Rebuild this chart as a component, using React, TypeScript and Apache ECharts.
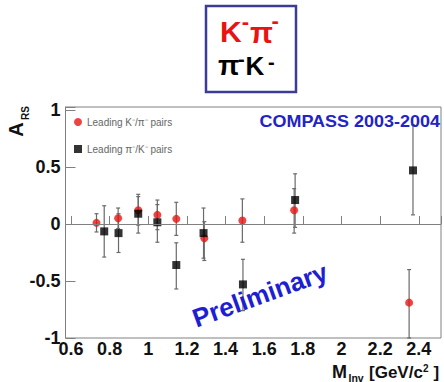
import React, { useEffect, useRef } from "react";
import * as echarts from "echarts";

const redX = [0.732, 0.844, 0.948, 1.047, 1.145, 1.29, 1.487, 1.755, 2.35];
const redY = [0.01, 0.05, 0.12, 0.08, 0.045, -0.125, 0.03, 0.12, -0.69];
const redLo = [-0.07, -0.04, -0.01, -0.05, -0.1, -0.32, -0.16, -0.08, -1.0];
const redHi = [0.09, 0.14, 0.24, 0.21, 0.19, 0.02, 0.22, 0.31, -0.4];

const blackX = [0.772, 0.846, 0.948, 1.047, 1.145, 1.286, 1.49, 1.76, 2.37];
const blackY = [-0.065, -0.08, 0.09, 0.015, -0.36, -0.08, -0.53, 0.21, 0.47];
const blackLo = [-0.29, -0.25, -0.08, -0.16, -0.57, -0.3, -0.76, -0.03, 0.08];
const blackHi = [0.16, 0.09, 0.26, 0.17, -0.165, 0.14, -0.31, 0.44, 0.87];

const xTickLabels = [0.6, 0.8, 1, 1.2, 1.4, 1.6, 1.8, 2, 2.2, 2.4];
const yTickLabels = [-1, -0.5, 0, 0.5, 1];

const redName = "Leading K\u207B/\u03C0\u207B pairs";
const blackName = "Leading \u03C0\u207B/K\u207B pairs";

const FONT = "'Liberation Sans', Arial, Helvetica, sans-serif";

function tickFmt(list: number[]) {
  return (v: number) => {
    const t = list.find((t) => Math.abs(t - v) < 1e-6);
    return t === undefined ? "" : String(t);
  };
}

function errRender(params: any, api: any) {
  const x = api.value(0);
  const lo = api.coord([x, api.value(1)]);
  const hi = api.coord([x, api.value(2)]);
  const c = 2;
  const style = { stroke: "#6a6a6a", lineWidth: 1.2 };
  return {
    type: "group",
    children: [
      { type: "line", shape: { x1: lo[0], y1: lo[1], x2: hi[0], y2: hi[1] }, style },
      { type: "line", shape: { x1: lo[0] - c, y1: lo[1], x2: lo[0] + c, y2: lo[1] }, style },
      { type: "line", shape: { x1: hi[0] - c, y1: hi[1], x2: hi[0] + c, y2: hi[1] }, style },
    ],
  };
}

function txt(
  text: string,
  x: number,
  y: number,
  size: number,
  fill: string,
  align = "left",
  rotation = 0,
  scaleX = 1
) {
  return {
    type: "text",
    x,
    y,
    rotation,
    scaleX,
    z: 100,
    style: {
      text,
      x: 0,
      y: 0,
      fill,
      fontSize: size,
      fontWeight: "bold",
      fontFamily: FONT,
      align,
      verticalAlign: "middle",
      textAlign: align,
      textVerticalAlign: "middle",
    },
  };
}

export default function App() {
  const ref = useRef<HTMLDivElement>(null);
  useEffect(() => {
    if (!ref.current) return;
    const chart = echarts.init(ref.current, null, { renderer: "svg" });
    const red = "#e81414";
    const option: any = {
      animation: false,
      backgroundColor: "#fff",
      textStyle: { fontFamily: FONT },
      grid: {
        left: 65.5,
        right: 1.5,
        top: 107,
        bottom: 44,
        show: true,
        borderColor: "#808080",
        borderWidth: 1,
        backgroundColor: "transparent",
      },
      legend: {
        orient: "vertical",
        left: 74,
        top: 117,
        padding: 0,
        itemGap: 17,
        itemWidth: 8,
        itemHeight: 8,
        textStyle: { fontSize: 10, color: "#666", fontFamily: FONT },
        data: [
          { name: redName, icon: "circle" },
          { name: blackName, icon: "rect" },
        ],
      },
      xAxis: {
        type: "value",
        min: 0.5716,
        max: 2.515,
        splitNumber: 10,
        axisLine: { show: true, lineStyle: { color: "#808080" } },
        axisTick: { show: true, inside: true, length: 8, lineStyle: { color: "#808080" } },
        splitLine: { show: false },
        axisLabel: {
          fontSize: 18,
          fontWeight: "bold",
          color: "#111",
          margin: 2,
          formatter: tickFmt(xTickLabels),
        },
      },
      yAxis: {
        type: "value",
        min: -1,
        max: 1.026,
        interval: 0.5,
        axisLine: { show: true, lineStyle: { color: "#808080" } },
        axisTick: { show: true, inside: true, length: 10, lineStyle: { color: "#808080" } },
        splitLine: { show: false },
        axisLabel: {
          fontSize: 18,
          fontWeight: "bold",
          color: "#111",
          margin: 5,
          formatter: tickFmt(yTickLabels),
        },
      },
      series: [
        {
          type: "custom",
          renderItem: errRender,
          data: redX.map((x, i) => [x, redLo[i], redHi[i]]),
          z: 2,
          silent: true,
          markLine: {
            silent: true,
            symbol: ["none", "none"],
            label: { show: false },
            lineStyle: { color: "#808080", type: "solid", width: 1 },
            data: [{ yAxis: 0 }],
          },
        },
        {
          type: "custom",
          renderItem: errRender,
          data: blackX.map((x, i) => [x, blackLo[i], blackHi[i]]),
          z: 2,
          silent: true,
        },
        {
          name: redName,
          type: "scatter",
          symbol: "circle",
          symbolSize: 8,
          itemStyle: { color: red },
          data: redX.map((x, i) => [x, redY[i]]),
          z: 3,
        },
        {
          name: blackName,
          type: "scatter",
          symbol: "rect",
          symbolSize: 8,
          itemStyle: { color: "#000" },
          data: blackX.map((x, i) => [x, blackY[i]]),
          z: 4,
        },
      ],
      graphic: [
        {
          type: "rect",
          shape: { x: 206, y: 6, width: 90, height: 86 },
          style: { fill: "#fff", stroke: "#3c3c98", lineWidth: 2.5 },
          z: 90,
        },
        txt("K", 220, 31.5, 30, red),
        txt("-", 241.8, 21.8, 22, red),
        txt("\u03C0", 250, 32.6, 30, red),
        txt("-", 271.5, 20.5, 22, red),
        txt("\u03C0", 218, 65.6, 28, "#000"),
        txt("-", 238, 58.9, 20, "#000"),
        txt("K", 245.5, 66, 26, "#000"),
        txt("-", 268, 61.5, 20, "#000"),
        txt("A", 15.5, 129.5, 20, "#111", "center", Math.PI / 2),
        txt("RS", 25.5, 113, 10, "#111", "center", Math.PI / 2),
        txt("COMPASS 2003-2004", 440, 121, 16.5, "#2323c6", "right", 0, 1.09),
        txt("Preliminary", 260, 295, 26, "#1e1ed2", "center", (20 * Math.PI) / 180),
        txt("M", 332, 372.3, 18, "#111"),
        txt("Inv", 348.5, 377.5, 10.5, "#111"),
        txt("[GeV/c", 369, 372.3, 17, "#111"),
        txt("2", 423, 368.5, 10, "#111"),
        txt("]", 433.5, 372.3, 17, "#111"),
      ],
    };
    chart.setOption(option);
    return () => chart.dispose();
  }, []);
  return (
    <div
      ref={ref}
      style={{ position: "fixed", left: 0, top: 0, width: 444, height: 382 }}
    />
  );
}
